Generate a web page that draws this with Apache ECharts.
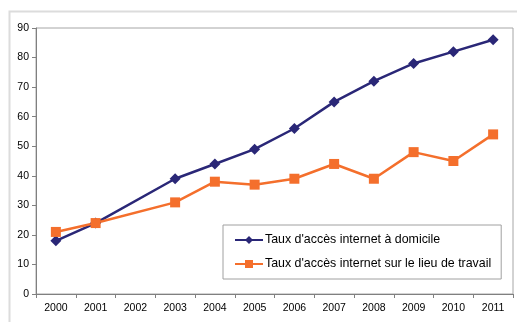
<!DOCTYPE html>
<html>
<head>
<meta charset="utf-8">
<script src="https://cdn.jsdelivr.net/npm/echarts@6/dist/echarts.min.js"></script>
<style>html,body{margin:0;padding:0;background:#fff;}#c{width:517px;height:322px;}</style>
</head>
<body>
<div id="c"></div>
<script>
var years = ['2000','2001','2002','2003','2004','2005','2006','2007','2008','2009','2010','2011'];
var domicile = [18, 24, null, 39, 44, 49, 56, 65, 72, 78, 82, 86];
var travail = [21, 24, null, 31, 38, 37, 39, 44, 39, 48, 45, 54];
var seriesNames = ["Taux d'accès internet à domicile", "Taux d'accès internet sur le lieu de travail"];

var chart = echarts.init(document.getElementById('c'));
var font = 'Liberation Sans, Arial, sans-serif';
chart.setOption({
  animation: false,
  backgroundColor: '#fff',
  graphic: [{
    type: 'rect', left: 7, top: 9, shape: {width: 530, height: 330},
    style: {fill: 'none', stroke: '#dcdcdc', lineWidth: 2}, z: -10
  }],
  grid: {left: 36, right: 4, top: 28, bottom: 28, show: true, borderColor: '#a6a6a6', borderWidth: 1},
  legend: {
    orient: 'vertical', left: 223, top: 225,
    borderColor: '#a0a0a0', borderWidth: 1, backgroundColor: '#fff',
    padding: [9, 10, 9, 11], itemGap: 12, itemWidth: 28, itemHeight: 10,
    textStyle: {fontFamily: font, fontSize: 12.4, color: '#000', padding: [0, 0, 0, -3]},
    data: seriesNames
  },
  xAxis: {
    type: 'category', data: years, boundaryGap: true,
    axisLine: {lineStyle: {color: '#808080', width: 1}},
    axisTick: {show: true, alignWithLabel: false, length: 4, lineStyle: {color: '#808080'}},
    axisLabel: {fontFamily: font, fontSize: 10.5, color: '#000', margin: 9}
  },
  yAxis: {
    type: 'value', min: 0, max: 90, interval: 10,
    splitLine: {show: false},
    axisLine: {show: true, lineStyle: {color: '#808080', width: 1}},
    axisTick: {show: true, length: 4, lineStyle: {color: '#808080'}},
    axisLabel: {fontFamily: font, fontSize: 10.5, color: '#000', margin: 7}
  },
  series: [{
    name: seriesNames[0], type: 'line', data: domicile, connectNulls: true,
    symbol: 'diamond', symbolSize: 11,
    lineStyle: {color: '#2a2777', width: 2.5},
    itemStyle: {color: '#2a2777'}
  }, {
    name: seriesNames[1], type: 'line', data: travail, connectNulls: true,
    symbol: 'rect', symbolSize: 10,
    lineStyle: {color: '#f46f2c', width: 2.5},
    itemStyle: {color: '#f46f2c'}
  }]
});
</script>
</body>
</html>
